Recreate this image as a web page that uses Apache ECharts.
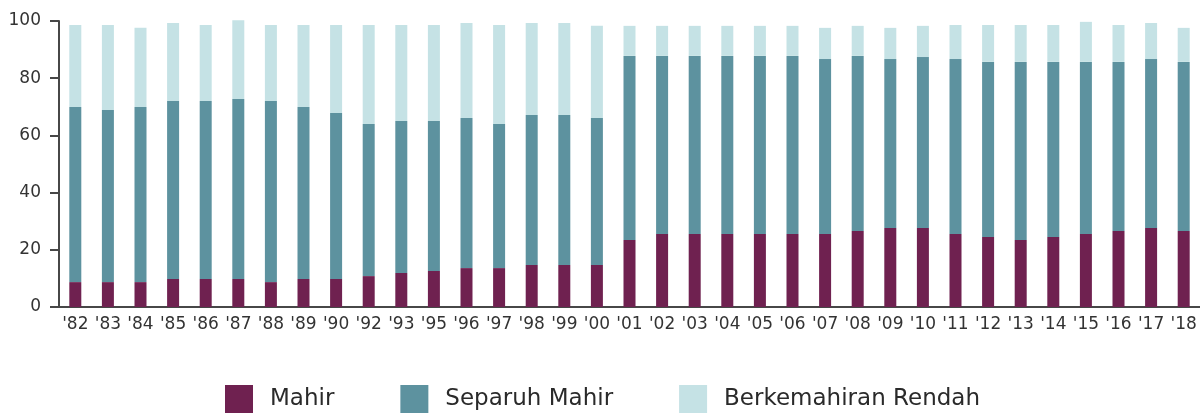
<!DOCTYPE html>
<html>
<head>
<meta charset="utf-8">
<script src="https://cdn.jsdelivr.net/npm/echarts@6/dist/echarts.min.js"></script>
<style>
  html, body { margin: 0; padding: 0; background: #fff; }
  #chart { width: 1200px; height: 413px; }
</style>
</head>
<body>
<div id="chart"></div>
<script>
// tahun (label paksi-x)
const years = ["'82", "'83", "'84", "'85", "'86", "'87", "'88", "'89", "'90", "'92",
  "'93", "'95", "'96", "'97", "'98", "'99", "'00", "'01", "'02", "'03",
  "'04", "'05", "'06", "'07", "'08", "'09", "'10", "'11", "'12", "'13",
  "'14", "'15", "'16", "'17", "'18"];

// peratus setiap kategori kemahiran
const mahir = [8.7, 8.7, 8.7, 9.8, 9.8, 9.8, 8.7, 9.8, 9.8, 10.8,
  11.9, 12.6, 13.6, 13.6, 14.7, 14.7, 14.7, 23.4, 25.5, 25.5,
  25.5, 25.5, 25.5, 25.5, 26.6, 27.6, 27.6, 25.5, 24.5, 23.4,
  24.5, 25.5, 26.6, 27.6, 26.6];
const separuhMahir = [61.2, 60.2, 61.2, 62.2, 62.2, 62.9, 63.3, 60.1, 58.0, 53.2,
  53.1, 52.4, 52.5, 50.4, 52.4, 52.4, 51.4, 64.4, 62.3, 62.3,
  62.3, 62.3, 62.3, 61.2, 61.2, 59.1, 59.8, 61.2, 61.2, 62.3,
  61.2, 60.2, 59.1, 59.1, 59.1];
const rendah = [28.7, 29.7, 27.7, 27.3, 26.6, 27.6, 26.6, 28.7, 30.8, 34.6,
  33.6, 33.6, 33.2, 34.6, 32.2, 32.2, 32.2, 10.5, 10.5, 10.5,
  10.5, 10.5, 10.5, 10.9, 10.5, 10.9, 10.9, 11.9, 12.9, 12.9,
  12.9, 14.0, 12.9, 12.6, 11.9];

const yTicks = [0, 20, 40, 60, 80, 100];

const axisColor = '#474747';
const font = 'DejaVu Sans';

const chart = echarts.init(document.getElementById('chart'));

function barSeries(name, data, color) {
  return {
    name: name,
    type: 'bar',
    stack: 'total',
    data: data,
    barWidth: 12,
    clip: false,
    itemStyle: { color: color },
    emphasis: { disabled: true }
  };
}

const option = {
  animation: false,
  textStyle: { fontFamily: font },
  grid: { left: 59, right: -1, top: 21, bottom: 106, containLabel: false },
  legend: {
    left: 225,
    top: 385,
    padding: 0,
    itemWidth: 28,
    itemHeight: 28,
    itemGap: 66,
    icon: 'rect',
    textStyle: { fontFamily: font, fontSize: 23, color: '#2a2a2a', padding: [0, 0, 0, 12] },
    data: ['Mahir', 'Separuh Mahir', 'Berkemahiran Rendah']
  },
  xAxis: {
    type: 'category',
    data: years,
    axisLine: { lineStyle: { color: axisColor, width: 2 } },
    axisTick: { show: false },
    axisLabel: { interval: 0, margin: 9, fontSize: 17, color: '#333', fontFamily: font }
  },
  yAxis: {
    type: 'value',
    min: yTicks[0],
    max: yTicks[yTicks.length - 1],
    interval: 20,
    splitLine: { show: false },
    axisLine: { show: true, lineStyle: { color: axisColor, width: 2 } },
    axisTick: { show: true, length: 9, lineStyle: { color: axisColor, width: 2 } },
    axisLabel: { margin: 18, fontSize: 17, color: '#333', fontFamily: font }
  },
  series: [
    barSeries('Mahir', mahir, '#6f2150'),
    barSeries('Separuh Mahir', separuhMahir, '#5d929f'),
    barSeries('Berkemahiran Rendah', rendah, '#c5e2e5')
  ]
};

chart.setOption(option);
</script>
</body>
</html>
